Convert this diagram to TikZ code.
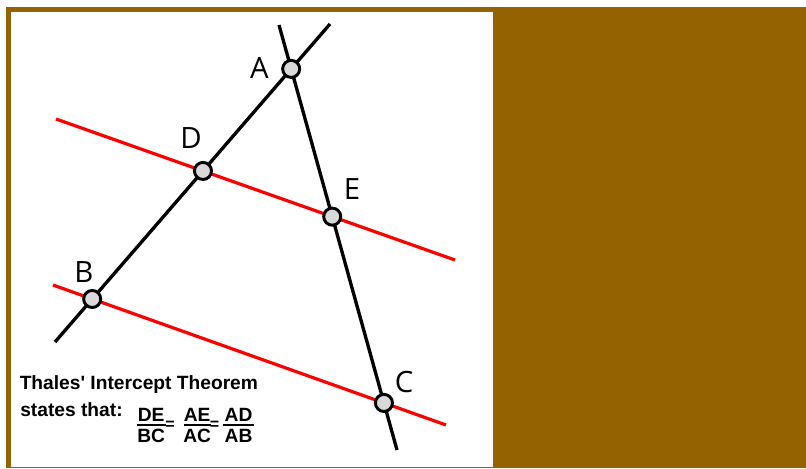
\documentclass[tikz,border=0pt]{standalone}
\usepackage{fontspec}
\setmainfont{Liberation Sans}
\newfontfamily\labfont{Open Sans}
\definecolor{brownbg}{HTML}{946200}
\definecolor{ptfill}{HTML}{D9D9D9}
\definecolor{redline}{HTML}{FF0000}
\pgfdeclarelayer{bg}
\pgfdeclarelayer{lines}
\pgfsetlayers{bg,lines,main}
\begin{document}
\begin{tikzpicture}[x=0.75pt,y=-0.75pt,
  blk/.style={draw=black,line width=2.5pt},
  redl/.style={draw=redline,line width=2.4pt},
  ptnode/.style={circle,draw=black,fill=ptfill,line width=2.2pt,minimum size=12.8pt,inner sep=0pt},
  lab/.style={font=\labfont\fontsize{22}{26}\selectfont,inner sep=0pt},
  txt/.style={font=\bfseries\fontsize{14.4}{16}\selectfont,inner sep=0pt},
  fracbar/.style={draw=black,line width=1.3pt}]
\useasboundingbox (0,0) rectangle (806,468);
\begin{pgfonlayer}{bg}
  \fill[white] (0,0) rectangle (806,468);
  \fill[brownbg] (6,7) rectangle (806,468);
  \fill[white] (11,12) rectangle (493,466.5);
\end{pgfonlayer}
% line end points
\coordinate (ab1) at (330,24);
\coordinate (ab2) at (55,342);
\coordinate (ac1) at (279,25);
\coordinate (ac2) at (397,450);
\coordinate (de1) at (56,119);
\coordinate (de2) at (455,260);
\coordinate (bc1) at (53,285);
\coordinate (bc2) at (446,425);
% points
\node[ptnode] (A) at (intersection of ab1--ab2 and ac1--ac2) {};
\node[ptnode] (D) at (intersection of ab1--ab2 and de1--de2) {};
\node[ptnode] (E) at (intersection of ac1--ac2 and de1--de2) {};
\node[ptnode] (B) at (intersection of ab1--ab2 and bc1--bc2) {};
\node[ptnode] (C) at (intersection of ac1--ac2 and bc1--bc2) {};
\begin{pgfonlayer}{lines}
  \draw[redl] (de1) -- (D.center) -- (E.center) -- (de2);
  \draw[redl] (bc1) -- (B.center) -- (C.center) -- (bc2);
  \draw[blk] (ab1) -- (A.center) -- (D.center) -- (B.center) -- (ab2);
  \draw[blk] (ac1) -- (A.center) -- (E.center) -- (C.center) -- (ac2);
\end{pgfonlayer}
% labels
\node[lab] (lA) at (259.3,67.8) {A};
\node[lab] (lD) at (191,138) {D};
\node[lab] (lE) at (352,189) {E};
\node[lab] (lB) at (84,272) {B};
\node[lab] (lC) at (404,382.5) {C};
% text
\node[txt,anchor=base west] (t1) at (19.5,389) {Thales\textquotesingle\ Intercept Theorem};
\node[txt,anchor=base west] (t2) at (20,416.5) {states that:};
% fractions
\node[txt] (n1) at (151.2,415) {DE};
\node[txt] (d1) at (151.2,435.5) {BC};
\draw[fracbar] (136.7,425) -- (165.7,425);
\node[txt,font=\bfseries\fontsize{12}{14}\selectfont] (eq1) at (170,425) {=};
\node[txt] (n2) at (197.2,415) {AE};
\node[txt] (d2) at (197.2,435.5) {AC};
\draw[fracbar] (183.5,425) -- (211,425);
\node[txt,font=\bfseries\fontsize{12}{14}\selectfont] (eq2) at (214.5,425) {=};
\node[txt] (n3) at (238.5,415) {AD};
\node[txt] (d3) at (238.5,435.5) {AB};
\draw[fracbar] (223,425) -- (254,425);
\end{tikzpicture}
\end{document}
